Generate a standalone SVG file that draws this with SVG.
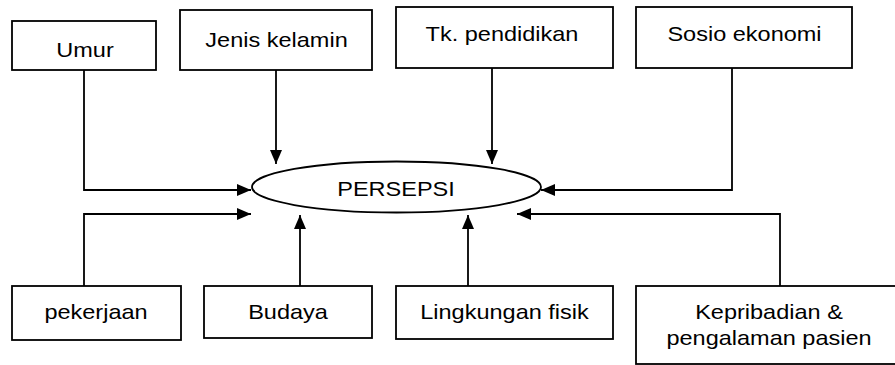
<svg xmlns="http://www.w3.org/2000/svg" width="895" height="365" viewBox="0 0 895 365">
<style>
.box{fill:#fff;stroke:#000;stroke-width:1.8}
.t{font-family:"Liberation Sans",Arial,sans-serif;font-size:21px;fill:#000;text-anchor:middle}
.c{fill:none;stroke:#000;stroke-width:1.8}
</style>
<defs>
<marker id="ah" markerUnits="userSpaceOnUse" markerWidth="14" markerHeight="12" refX="14" refY="6" orient="auto">
<path d="M0,0 L14,6 L0,12 z" fill="#000"/>
</marker>
</defs>
<rect width="895" height="365" fill="#fff"/>
<g id="connectors">
<path class="c" d="M84,70 V190 H251" marker-end="url(#ah)"/>
<path class="c" d="M276,70 V164" marker-end="url(#ah)"/>
<path class="c" d="M492,68 V164" marker-end="url(#ah)"/>
<path class="c" d="M732,68 V190 H541" marker-end="url(#ah)"/>
<path class="c" d="M84,286 V214 H251" marker-end="url(#ah)"/>
<path class="c" d="M300,286 V215" marker-end="url(#ah)"/>
<path class="c" d="M468,286 V215" marker-end="url(#ah)"/>
<path class="c" d="M780,286 V214 H517" marker-end="url(#ah)"/>
</g>
<g id="persepsi">
<ellipse class="box" cx="396.5" cy="187" rx="144.5" ry="25.5"/>
<text class="t" transform="translate(396 196) scale(1.12 1)">PERSEPSI</text>
</g>
<g id="umur">
<rect class="box" x="12" y="21" width="144" height="49"/>
<text class="t" transform="translate(85 57) scale(1.12 1)">Umur</text>
</g>
<g id="jenis-kelamin">
<rect class="box" x="180" y="10" width="192" height="60"/>
<text class="t" transform="translate(276.5 47) scale(1.12 1)">Jenis kelamin</text>
</g>
<g id="tk-pendidikan">
<rect class="box" x="396" y="7" width="217" height="61"/>
<text class="t" transform="translate(502 41) scale(1.12 1)">Tk. pendidikan</text>
</g>
<g id="sosio-ekonomi">
<rect class="box" x="636" y="7" width="216" height="61"/>
<text class="t" transform="translate(744.5 41) scale(1.12 1)">Sosio ekonomi</text>
</g>
<g id="pekerjaan">
<rect class="box" x="12" y="286" width="169" height="54"/>
<text class="t" transform="translate(96 319) scale(1.12 1)">pekerjaan</text>
</g>
<g id="budaya">
<rect class="box" x="204" y="286" width="168" height="52"/>
<text class="t" transform="translate(288 319) scale(1.12 1)">Budaya</text>
</g>
<g id="lingkungan-fisik">
<rect class="box" x="396" y="286" width="217" height="53"/>
<text class="t" transform="translate(504.5 319) scale(1.12 1)">Lingkungan fisik</text>
</g>
<g id="kepribadian">
<rect class="box" x="636" y="286" width="266" height="78"/>
<text class="t" transform="translate(769 319) scale(1.12 1)">Kepribadian &amp;</text>
<text class="t" transform="translate(769 345) scale(1.12 1)">pengalaman pasien</text>
</g>
</svg>
